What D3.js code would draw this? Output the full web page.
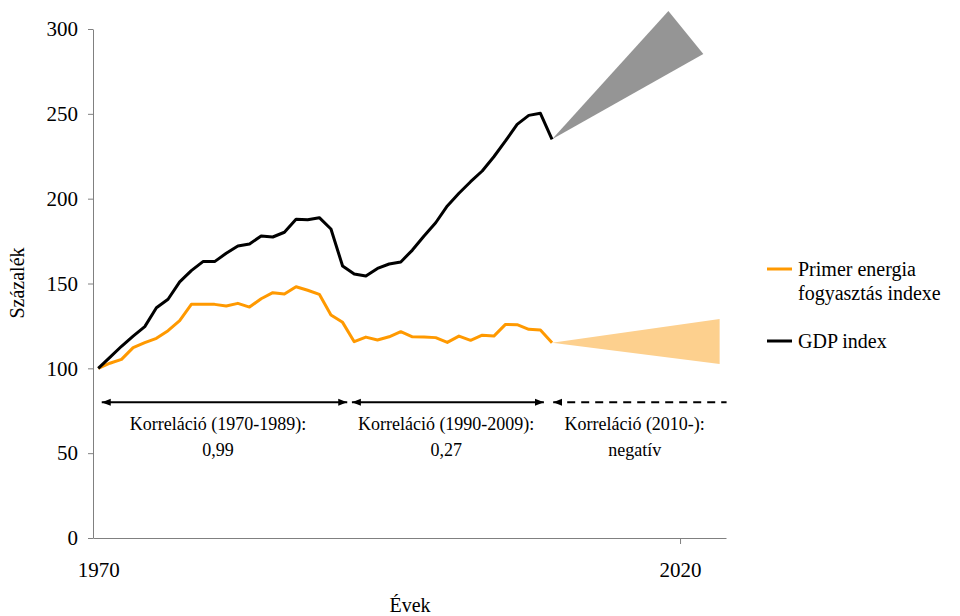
<!DOCTYPE html>
<html>
<head>
<meta charset="utf-8">
<script src="https://cdn.jsdelivr.net/npm/d3@7/dist/d3.min.js"></script>
<style>
  html, body { margin: 0; padding: 0; background: #fff; }
  svg { display: block; font-family: "Liberation Serif", "Times New Roman", serif; }
</style>
</head>
<body>
<svg id="chart" width="960" height="616"></svg>
<script>
// ---- data ----
const years = d3.range(1970, 2010);
const gdpIndex = [100, 106.5, 113, 119, 124.6, 135.7, 140.7, 151, 157.6, 162.9,
  162.9, 167.8, 172.1, 173.3, 178, 177.4, 180.2, 187.8, 187.6, 188.8,
  182.1, 160.3, 155.6, 154.4, 158.9, 161.5, 162.7, 169.7, 178, 185.8,
  195.7, 203.2, 210, 216.3, 224.7, 234, 243.8, 249.1, 250.3, 235];
const energyIndex = [100, 103, 105.3, 112.2, 115.1, 117.7, 122.2, 128.1, 137.7, 137.7,
  137.7, 136.7, 138.3, 136.1, 141, 144.6, 143.8, 148.1, 146, 143.6,
  131.4, 127.1, 115.7, 118.4, 116.7, 118.6, 121.6, 118.6, 118.5, 118.1,
  115.3, 119, 116.5, 119.5, 119, 125.9, 125.7, 123, 122.6, 115.1];
// projection fans: [year, value]
const gdpFan = [[2009, 235], [2019.0, 310.6], [2022.0, 285.3]];
const energyFan = [[2009, 115.1], [2023.4, 129.1], [2023.4, 102.6]];
const yTicks = [0, 50, 100, 150, 200, 250, 300];
const xTicks = [1970, 2020];
// correlation periods
const periods = [
  { from: 1970.3, to: 1991.4, dashed: false, right: true, line1: "Korreláció (1970-1989):", line2: "0,99" },
  { from: 1991.8, to: 2008.3, dashed: false, right: true, line1: "Korreláció (1990-2009):", line2: "0,27" },
  { from: 2009.1, to: 2024.0, dashed: true, right: false, line1: "Korreláció (2010-):", line2: "negatív" }
];
const periodLabelX = [1980.3, 1999.9, 2016.1];
const arrowLevel = 80;
const legendItems = [
  { lines: ["Primer energia", "fogyasztás indexe"], color: "#FF9900" },
  { lines: ["GDP index"], color: "#000000" }
];

// ---- chart ----
const svg = d3.select("#chart");
const x = d3.scaleLinear().domain([1969.55, 2023.95]).range([93, 726]);
const y = d3.scaleLinear().domain([0, 300]).range([538, 29]);

const defs = svg.append("defs");
defs.append("marker").attr("id", "ah").attr("viewBox", "0 0 10 10").attr("refX", 10).attr("refY", 5)
  .attr("markerWidth", 9).attr("markerHeight", 9).attr("markerUnits", "userSpaceOnUse")
  .attr("orient", "auto-start-reverse")
  .append("path").attr("d", "M0,1 L10,5 L0,9 Z").attr("fill", "#000");

// axes
const yAxis = svg.append("g").attr("transform", `translate(${x.range()[0]},0)`)
  .call(d3.axisLeft(y).tickValues(yTicks).tickSize(5).tickSizeOuter(0).tickPadding(10));
yAxis.select(".domain").attr("stroke", "#808080");
yAxis.selectAll(".tick line").attr("stroke", "#808080");
yAxis.selectAll(".tick text").attr("font-size", 21).attr("font-family", "Liberation Serif").attr("fill", "#000");

const xAxis = svg.append("g").attr("transform", `translate(0,${y(0)})`)
  .call(d3.axisBottom(x).tickValues(xTicks).tickFormat(d3.format("d")).tickSize(6).tickSizeOuter(0).tickPadding(18));
xAxis.select(".domain").attr("stroke", "#808080");
xAxis.selectAll(".tick line").attr("stroke", "#808080").attr("display", d => d === 1970 ? "none" : null);
xAxis.selectAll(".tick text").attr("font-size", 21).attr("font-family", "Liberation Serif").attr("fill", "#000");

// fans
const fanLine = d3.line().x(d => x(d[0])).y(d => y(d[1]));
svg.append("path").attr("d", fanLine(gdpFan) + "Z").attr("fill", "#959595");
svg.append("path").attr("d", fanLine(energyFan) + "Z").attr("fill", "#FDD08E");

// series lines
const line = d3.line().x((d, i) => x(years[i])).y(d => y(d));
svg.append("path").datum(energyIndex).attr("d", line).attr("fill", "none")
  .attr("stroke", "#FF9900").attr("stroke-width", 3).attr("stroke-linejoin", "round");
svg.append("path").datum(gdpIndex).attr("d", line).attr("fill", "none")
  .attr("stroke", "#000").attr("stroke-width", 3).attr("stroke-linejoin", "round");

// correlation arrows
periods.forEach((p, i) => {
  const l = svg.append("line")
    .attr("x1", x(p.from)).attr("x2", x(p.to)).attr("y1", y(arrowLevel)).attr("y2", y(arrowLevel))
    .attr("stroke", "#000").attr("stroke-width", 2)
    .attr("marker-start", "url(#ah)");
  if (p.right) l.attr("marker-end", "url(#ah)");
  if (p.dashed) l.attr("stroke-dasharray", "8,6");
  const t = svg.append("text").attr("x", x(periodLabelX[i])).attr("text-anchor", "middle")
    .attr("font-size", 18).attr("fill", "#000");
  t.append("tspan").attr("x", x(periodLabelX[i])).attr("y", y(arrowLevel) + 28).text(p.line1);
  t.append("tspan").attr("x", x(periodLabelX[i])).attr("y", y(arrowLevel) + 54).text(p.line2);
});

// legend
const lg = svg.append("g").attr("transform", "translate(767,269)");
let ly = 0;
legendItems.forEach((it, i) => {
  const g = lg.append("g").attr("transform", `translate(0,${ly})`);
  g.append("line").attr("x1", 0).attr("x2", 25).attr("y1", 0).attr("y2", 0)
    .attr("stroke", it.color).attr("stroke-width", 3);
  it.lines.forEach((s, j) => {
    g.append("text").attr("x", 31).attr("y", j * 24 + 7).attr("font-size", 20).attr("fill", "#000").text(s);
  });
  ly += 72;
});

// axis titles
svg.append("text").attr("x", 410).attr("y", 612).attr("text-anchor", "middle")
  .attr("font-size", 20).attr("fill", "#000").text("Évek");
svg.append("text").attr("transform", "translate(24,283) rotate(-90)").attr("text-anchor", "middle")
  .attr("font-size", 20).attr("fill", "#000").text("Százalék");
</script>
</body>
</html>
